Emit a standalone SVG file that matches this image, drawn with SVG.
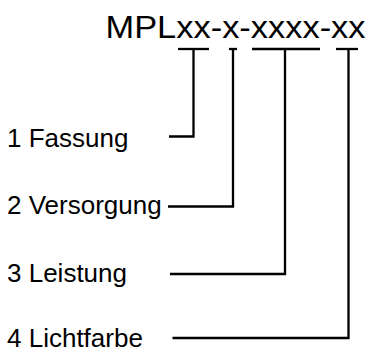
<svg xmlns="http://www.w3.org/2000/svg" width="368" height="349" viewBox="0 0 368 349">
<style>
text{font-family:"Liberation Sans",Arial,sans-serif;fill:#000}
.lbl{font-size:26px}
.title{font-size:32px}
.c{fill:none;stroke:#000;stroke-width:2.3;stroke-linejoin:miter;stroke-linecap:butt}
</style>
<rect width="368" height="349" fill="#fff"/>
<g id="title"><text class="title" x="105.5" y="38" textLength="260" lengthAdjust="spacingAndGlyphs">MPLxx-x-xxxx-xx</text></g>
<g id="n1"><text class="lbl" x="7" y="146.5">1 Fassung</text></g>
<g id="n2"><text class="lbl" x="7" y="214">2 Versorgung</text></g>
<g id="n3"><text class="lbl" x="7" y="281.5">3 Leistung</text></g>
<g id="n4"><text class="lbl" x="7" y="346.5">4 Lichtfarbe</text></g>
<g id="connectors">
<path class="c" d="M178,49 H209"/>
<path class="c" d="M169,136.5 H193.5 V49"/>
<path class="c" d="M229,49 H237"/>
<path class="c" d="M168,206.5 H233 V49"/>
<path class="c" d="M252,49 H320"/>
<path class="c" d="M170,274 H285 V49"/>
<path class="c" d="M336,49 H358"/>
<path class="c" d="M172.5,338 H348.5 V49"/>
</g>
</svg>
